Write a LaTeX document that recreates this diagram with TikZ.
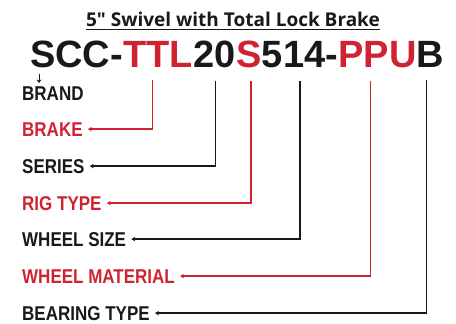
\documentclass[tikz,border=0pt]{standalone}
\usepackage{fontspec}
\usepackage{xcolor}
\usetikzlibrary{arrows.meta, positioning}
\newfontfamily\titlefont{Open Sans}
\newfontfamily\codefont{Liberation Sans}
\newfontfamily\labfont[FakeStretch=0.85]{Liberation Sans}
\definecolor{codered}{RGB}{208,35,50}
\definecolor{inkblack}{RGB}{25,25,25}

\begin{document}
\begin{tikzpicture}[x=1pt, y=-1pt]
        \tikzset{code/.style={anchor=base west, inner sep=0pt, font=\codefont\bfseries\fontsize{38}{38}\selectfont},
                 lab/.style={anchor=base west, inner sep=0pt, font=\labfont\bfseries\fontsize{20}{20}\selectfont},
                 tag/.style={draw, line width=1.4pt, -{Stealth[length=4pt, width=4.5pt]}, shorten >=5pt}}
        \useasboundingbox (0,0) rectangle (456,324);

        \node [font=\titlefont\bfseries\fontsize{19}{19}\selectfont, text=inkblack, inner sep=0pt] (title) at (233,19) {5" Swivel with Total Lock Brake};
        \draw [inkblack, line width=1pt] ([yshift=-3pt]title.south west) -- ([yshift=-3pt]title.south east);

        \node [code, text=inkblack] (scc) at (30,67) {SCC-};
        \node [code, text=codered] (ttl) at (scc.base east) {TTL};
        \node [code, text=inkblack] (twenty) at (ttl.base east) {20};
        \node [code, text=codered] (rig) at (twenty.base east) {S};
        \node [code, text=inkblack] (size) at (rig.base east) {514-};
        \node [code, text=codered] (ppu) at (size.base east) {PPU};
        \node [code, text=inkblack] (bee) at (ppu.base east) {B};

        \node [lab, text=inkblack] (brand) at (22,100) {BRAND};
        \node [lab, text=codered] (brake) at (22,136) {BRAKE};
        \node [lab, text=inkblack] (series) at (22,173) {SERIES};
        \node [lab, text=codered] (rigtype) at (22,210) {RIG TYPE};
        \node [lab, text=inkblack] (wheelsize) at (22,246) {WHEEL SIZE};
        \node [lab, text=codered] (material) at (22,283) {WHEEL MATERIAL};
        \node [lab, text=inkblack] (bearing) at (22,320) {BEARING TYPE};

        \draw [inkblack, line width=1pt, -{Stealth[length=3.5pt, width=5pt]}] ([xshift=9pt, yshift=-6pt]scc.south west) -- ([xshift=17pt, yshift=3pt]brand.north west);
        \path [tag, codered] ([xshift=-6pt, yshift=-13pt]ttl.south) |- (brake.east);
        \path [tag, inkblack] ([xshift=1pt, yshift=-13pt]twenty.south) |- (series.east);
        \path [tag, codered] ([xshift=2pt, yshift=-13pt]rig.south) |- (rigtype.east);
        \path [tag, inkblack] ([yshift=-13pt]size.south) |- (wheelsize.east);
        \path [tag, codered] ([xshift=-7pt, yshift=-13pt]ppu.south) |- (material.east);
        \path [tag, inkblack] ([xshift=-4pt, yshift=-13pt]bee.south) |- (bearing.east);
    \end{tikzpicture}
\end{document}
